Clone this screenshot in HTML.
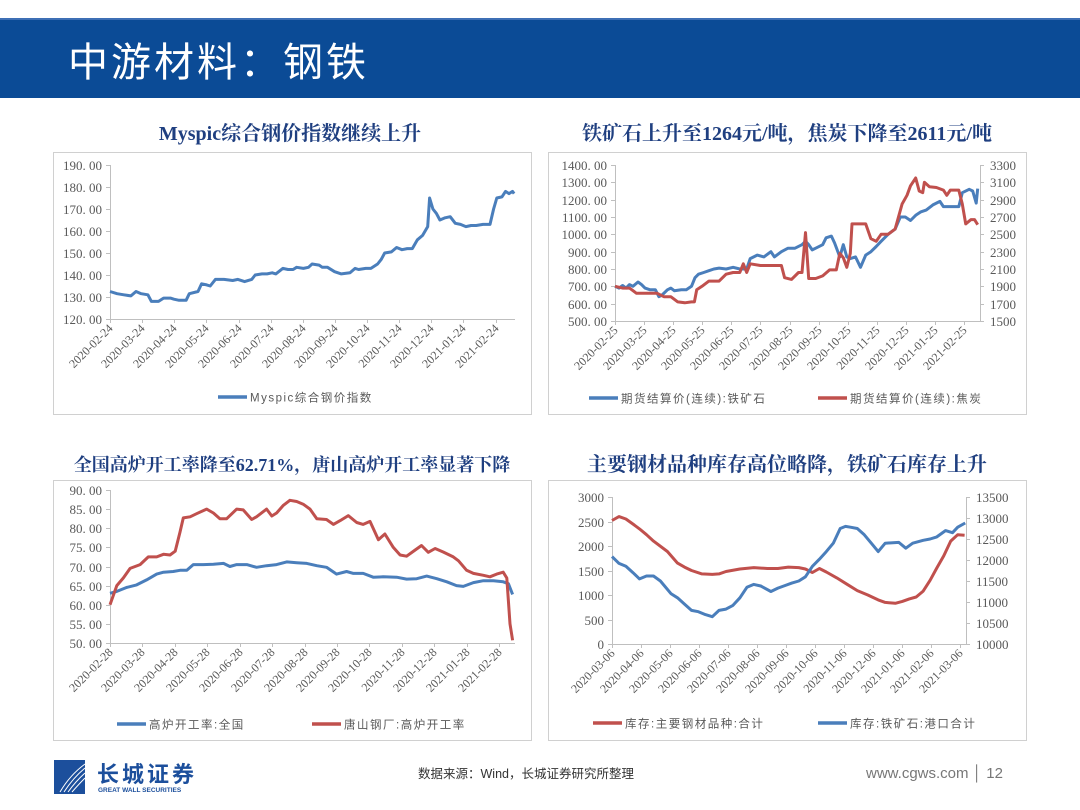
<!DOCTYPE html>
<html><head><meta charset="utf-8"><style>
body{margin:0;background:#fff;}
svg{display:block;}
text{font-family:"Liberation Serif","Noto Serif CJK SC",serif;}
.cj{font-family:"Liberation Sans","Noto Sans CJK SC",sans-serif;}
.tl{fill:#595959;font-size:13px;}
.dl{fill:#595959;font-size:12px;}
.lg{fill:#595959;font-size:11.5px;letter-spacing:1.5px;}
.ct{fill:#1f3f80;font-size:20px;font-weight:bold;}
</style></head><body>
<svg id="s" width="1080" height="810" viewBox="0 0 1080 810">
<rect x="0" y="18" width="1080" height="80" fill="#0b4b96"/>
<rect x="0" y="18" width="1080" height="2" fill="#3d6fb5"/>
<text x="68" y="76" class="cj" fill="#fff" font-size="40" letter-spacing="3">中游材料：钢铁</text>

<text x="290" y="140" text-anchor="middle" class="ct">Myspic综合钢价指数继续上升</text>
<text x="787" y="140" text-anchor="middle" class="ct">铁矿石上升至1264元/吨，焦炭下降至2611元/吨</text>
<text x="292" y="471" text-anchor="middle" class="ct" font-size="18" style="font-size:18px">全国高炉开工率降至62.71%，唐山高炉开工率显著下降</text>
<text x="787" y="471" text-anchor="middle" class="ct">主要钢材品种库存高位略降，铁矿石库存上升</text>

<rect x="53.5" y="152.5" width="478" height="262" fill="none" stroke="#d0d0d0"/>
<rect x="548.5" y="152.5" width="478" height="262" fill="none" stroke="#d0d0d0"/>
<rect x="53.5" y="480.5" width="478" height="260" fill="none" stroke="#d0d0d0"/>
<rect x="548.5" y="480.5" width="478" height="260" fill="none" stroke="#d0d0d0"/>

<g>
<rect x="54" y="760" width="31" height="34" fill="#1c4f9c"/>
<path d="M60 792 Q70 775 85 764 M64 792 Q73 778 85 768 M68 792 Q76 781 85 773 M72 792 Q79 784 85 778" stroke="#fff" stroke-width="1" fill="none"/>
<text x="97" y="782" class="cj" fill="#1c4f9c" font-size="22" font-weight="bold" letter-spacing="3">长城证券</text>
<text x="98" y="792" class="cj" fill="#1c4f9c" font-size="6.5" font-weight="bold">GREAT WALL SECURITIES</text>
</g>
<text x="418" y="778" class="cj" fill="#333" font-size="12.5">数据来源：Wind，长城证券研究所整理</text>
<text x="866" y="778" class="cj" fill="#777" font-size="15">www.cgws.com │ 12</text>
</svg>
<script>
// ---- Chart 1 data ----
const c1Months=[0,.22,.43,.65,.81,.97,1.18,1.29,1.51,1.67,1.88,1.99,2.15,2.37,2.47,2.74,2.85,3.01,3.12,3.28,3.55,3.82,3.98,4.19,4.41,4.52,4.73,4.89,5.05,5.16,5.38,5.54,5.70,5.81,6.02,6.18,6.29,6.51,6.61,6.77,6.99,7.20,7.47,7.63,7.74,7.96,8.12,8.33,8.44,8.55,8.76,8.92,9.09,9.25,9.41,9.57,9.73,9.89,9.95,10.05,10.16,10.27,10.43,10.59,10.75,10.91,11.08,11.24,11.40,11.61,11.83,11.94,12.04,12.20,12.31,12.42,12.53,12.58];
const c1Values=[132.5,131.5,131,130.5,132.5,131.5,131,128,128,129.5,129.5,129,128.5,128.5,131.5,132.5,136,135.5,135,138,138,137.5,138,137,138,140,140.5,140.5,141,140.5,143,142.5,142.5,143.5,143,143.5,145,144.5,143.5,143.5,141.5,140.5,141,143,142.5,143,143,145,147,150,150.5,152.5,151.5,152,152,156,158,162,175,170,168,165,166,166.5,163.5,163,162,162.5,162.5,163,163,170,175,175.5,178,177,178,177];
const c1YTicks=[120,130,140,150,160,170,180,190];
const c1XTicks=["2020-02-24","2020-03-24","2020-04-24","2020-05-24","2020-06-24","2020-07-24","2020-08-24","2020-09-24","2020-10-24","2020-11-24","2020-12-24","2021-01-24","2021-02-24"];
// ---- Chart 2 data ----
const c2OreMonths=[0,.14,.26,.38,.50,.62,.79,.91,1.03,1.21,1.39,1.51,1.62,1.80,1.92,2.04,2.28,2.45,2.63,2.75,2.87,3.05,3.23,3.40,3.58,3.82,4.06,4.29,4.53,4.65,4.89,5.12,5.36,5.48,5.72,5.95,6.19,6.43,6.55,6.66,6.78,6.90,7.14,7.26,7.44,7.55,7.73,7.85,7.97,8.09,8.27,8.44,8.62,8.80,8.98,9.15,9.39,9.63,9.81,9.98,10.16,10.34,10.52,10.70,10.93,11.17,11.29,11.53,11.82,11.94,12.18,12.30,12.42,12.47];
const c2OreValues=[700,690,705,690,710,700,725,710,690,680,680,640,650,680,690,675,680,680,700,750,770,780,790,800,805,800,810,800,800,860,880,870,900,870,900,920,920,940,960,940,910,920,940,980,990,950,870,940,870,860,870,810,880,900,930,960,1000,1030,1100,1100,1080,1110,1130,1140,1170,1190,1160,1160,1160,1240,1260,1250,1180,1264];
const c2CokeMonths=[0,.26,.50,.74,.97,1.45,1.68,1.92,2.16,2.40,2.63,2.73,2.81,2.99,3.23,3.58,3.82,4.06,4.29,4.41,4.53,4.65,5.00,5.72,5.83,6.07,6.31,6.43,6.55,6.66,6.90,7.14,7.38,7.61,7.73,7.85,7.97,8.09,8.15,8.32,8.62,8.80,8.98,9.15,9.39,9.63,9.87,10.04,10.16,10.34,10.46,10.58,10.64,10.81,11.05,11.29,11.41,11.53,11.82,11.94,12.06,12.24,12.36,12.47];
const c2CokeValues=[1900,1880,1880,1820,1820,1820,1780,1780,1720,1710,1720,1720,1860,1900,1960,1960,2040,2060,2060,2160,2060,2160,2140,2140,2000,1980,2060,2060,2520,1990,1990,2020,2090,2090,2280,2230,2120,2280,2620,2620,2620,2450,2420,2500,2500,2560,2850,2950,3060,3150,3000,2980,3100,3050,3040,3010,2950,3010,3010,2850,2620,2670,2670,2611];
const c2LeftTicks=[500,600,700,800,900,1000,1100,1200,1300,1400];
const c2RightTicks=[1500,1700,1900,2100,2300,2500,2700,2900,3100,3300];
const c2XTicks=["2020-02-25","2020-03-25","2020-04-25","2020-05-25","2020-06-25","2020-07-25","2020-08-25","2020-09-25","2020-10-25","2020-11-25","2020-12-25","2021-01-25","2021-02-25"];
// ---- Chart 3 data ----
const c3NatMonths=[0,.21,.51,.82,1.13,1.44,1.65,1.95,2.16,2.37,2.57,2.88,3.19,3.50,3.70,3.91,4.22,4.52,4.83,5.14,5.45,5.76,6.07,6.38,6.68,6.99,7.30,7.51,7.81,8.12,8.43,8.84,9.15,9.46,9.77,10.08,10.39,10.69,10.90,11.21,11.52,11.83,12.13,12.29,12.42];
const c3NatValues=[63,63.5,64.5,65.2,66.5,68,68.5,68.7,69,69,70.5,70.5,70.6,70.8,70,70.5,70.5,69.8,70.2,70.5,71.2,71,70.8,70.2,69.8,68,68.7,68.2,68.2,67.2,67.3,67.2,66.7,66.8,67.5,66.8,66,65,64.8,65.8,66.3,66.3,66,65.5,62.71];
const c3TsMonths=[0,.21,.41,.62,.93,1.18,1.44,1.65,1.85,2.01,2.16,2.26,2.47,2.67,2.98,3.19,3.39,3.60,3.91,4.11,4.37,4.52,4.83,4.99,5.14,5.35,5.55,5.76,5.96,6.17,6.38,6.68,6.89,7.10,7.35,7.61,7.81,8.02,8.28,8.48,8.74,8.95,9.15,9.41,9.61,9.82,10.03,10.28,10.59,10.75,11.00,11.21,11.52,11.72,11.93,12.13,12.24,12.34,12.42];
const c3TsValues=[60,65,67,69.5,70.5,72.5,72.5,73.2,73,74,79,82.7,83,83.8,85,84,82.5,82.5,85,84.8,82.3,83,85,83.2,84,86,87.3,87,86.3,85,82.5,82.3,81,82,83.3,81.5,81,81.8,77,78.5,75,73,72.7,74.3,75.5,73.7,74.7,73.8,72.5,71.5,69,68.2,67.7,67.3,68,68.5,67,55,50.7];
const c3YTicks=[50,55,60,65,70,75,80,85,90];
const c3XTicks=["2020-02-28","2020-03-28","2020-04-28","2020-05-28","2020-06-28","2020-07-28","2020-08-28","2020-09-28","2020-10-28","2020-11-28","2020-12-28","2021-01-28","2021-02-28"];
// ---- Chart 4 data ----
const c4SteelMonths=[0,.24,.48,.72,.95,1.19,1.43,1.91,2.26,2.50,2.74,3.10,3.46,3.69,3.93,4.41,4.89,5.36,5.72,6.08,6.44,6.67,6.91,7.15,7.39,7.75,8.10,8.46,8.82,9.18,9.42,9.77,10.01,10.25,10.49,10.73,10.97,11.20,11.44,11.68,11.92,12.16];
const c4SteelValues=[2520,2600,2550,2450,2350,2230,2100,1888,1650,1570,1500,1430,1420,1430,1480,1530,1560,1540,1540,1570,1560,1530,1460,1540,1470,1350,1220,1090,1000,900,850,830,870,920,960,1080,1300,1550,1800,2100,2230,2220];
const c4OreMonths=[0,.24,.48,.72,.95,1.19,1.43,1.67,2.03,2.26,2.50,2.74,2.98,3.22,3.46,3.69,3.93,4.17,4.41,4.65,4.89,5.13,5.48,5.72,5.96,6.20,6.44,6.67,6.91,7.15,7.39,7.63,7.87,8.05,8.22,8.46,8.70,8.94,9.18,9.42,9.89,10.13,10.37,10.73,10.97,11.20,11.50,11.74,11.92,12.18];
const c4OreValues=[12080,11920,11850,11700,11550,11620,11620,11500,11200,11100,10950,10800,10770,10700,10650,10800,10830,10920,11100,11350,11420,11380,11250,11330,11390,11450,11500,11600,11850,12020,12200,12400,12750,12800,12780,12750,12600,12400,12200,12400,12420,12280,12400,12470,12500,12550,12700,12650,12780,12880];
const c4LeftTicks=[0,500,1000,1500,2000,2500,3000];
const c4RightTicks=[10000,10500,11000,11500,12000,12500,13000,13500];
const c4XTicks=["2020-03-06","2020-04-06","2020-05-06","2020-06-06","2020-07-06","2020-08-06","2020-09-06","2020-10-06","2020-11-06","2020-12-06","2021-01-06","2021-02-06","2021-03-06"];

const BLUE="#4a7ebb",RED="#c0504d",AX="#bfbfbf";
const svg=document.getElementById('s');
const NS="http://www.w3.org/2000/svg";
function mk(tag,attrs,txt){const e=document.createElementNS(NS,tag);for(const k in attrs)e.setAttribute(k,attrs[k]);if(txt!==undefined)e.textContent=txt;svg.appendChild(e);return e;}
function lin(d0,d1,r0,r1){return v=>r0+(v-d0)/(d1-d0)*(r1-r0);}
function fmt(v,dec){return dec?v.toFixed(2).replace('.', '. '):String(v);}

function xAxis(pfx,xs,labels,y,x0,x1){
  const l=mk('line',{x1:x0,y1:y+.5,x2:x1,y2:y+.5,stroke:AX});
  
  
  labels.forEach((lab,i)=>{
    const x=Math.round(xs(i))+.5;
    const t=mk('line',{x1:x,y1:y,x2:x,y2:y+4,stroke:AX});
    
    
    const tx=mk('text',{x:x+3,y:y+10,'text-anchor':'end',class:'dl',transform:`rotate(-45 ${x+3} ${y+10})`},lab);
    
    
  });
}
function yAxis(pfx,ticks,ys,x,side,dec,top,bot){
  const l=mk('line',{x1:x+.5,y1:top,x2:x+.5,y2:bot,stroke:AX});
  
  
  ticks.forEach(v=>{
    const y=Math.round(ys(v))+.5;
    const tk=mk('line',{x1:side==='left'?x-4:x,y1:y,x2:side==='left'?x:x+4,y2:y,stroke:AX});
    
    
    const t=mk('text',{x:side==='left'?x-8:x+10,y:y+4.5,'text-anchor':side==='left'?'end':'start',class:'tl'},fmt(v,dec));
    
    
  });
}
function series(name,ms,vs,xs,ys,color){
  const d=ms.map((m,i)=>(i?'L':'M')+xs(m).toFixed(1)+' '+ys(vs[i]).toFixed(1)).join(' ');
  const p=mk('path',{d:d,fill:'none',stroke:color,'stroke-width':3,'stroke-linejoin':'round'});
  
  
}
function legend(name,x,y,color,label){
  const l=mk('line',{x1:x,y1:y,x2:x+29,y2:y,stroke:color,'stroke-width':3.5});
  
  
  const t=mk('text',{x:x+32,y:y+4.5,class:'lg cj'},label);
  
  
}

// Chart 1
{const xs=lin(0,12,110,495.5),ys=lin(120,190,319,165);
 yAxis('chart1',c1YTicks,ys,110,'left',true,165,319);
 xAxis('chart1',xs,c1XTicks,319,110,515);
 series('chart1-steel-index-line',c1Months,c1Values,xs,ys,BLUE);
 legend('chart1-legend-steel-index',218,397,BLUE,'Myspic综合钢价指数');}
// Chart 2
{const xs=lin(0,12,615,964),yl=lin(500,1400,321,165),yr=lin(1500,3300,321,165);
 yAxis('chart2',c2LeftTicks,yl,615,'left',true,165,321);
 yAxis('chart2',c2RightTicks,yr,980,'right',false,165,321);
 xAxis('chart2',xs,c2XTicks,321,615,980);
 series('chart2-iron-ore-line',c2OreMonths,c2OreValues,xs,yl,BLUE);
 series('chart2-coke-line',c2CokeMonths,c2CokeValues,xs,yr,RED);
 legend('chart2-legend-iron-ore',589,398,BLUE,'期货结算价(连续):铁矿石');
 legend('chart2-legend-coke',818,398,RED,'期货结算价(连续):焦炭');}
// Chart 3
{const xs=lin(0,12,110,499),ys=lin(50,90,643,490);
 yAxis('chart3',c3YTicks,ys,110,'left',true,490,643);
 xAxis('chart3',xs,c3XTicks,643,110,515);
 series('chart3-national-rate-line',c3NatMonths,c3NatValues,xs,ys,BLUE);
 series('chart3-tangshan-rate-line',c3TsMonths,c3TsValues,xs,ys,RED);
 legend('chart3-legend-national',117,724,BLUE,'高炉开工率:全国');
 legend('chart3-legend-tangshan',312,724,RED,'唐山钢厂:高炉开工率');}
// Chart 4
{const xs=lin(0,12,612,960),yl=lin(0,3000,644,497),yr=lin(10000,13500,644,497);
 yAxis('chart4',c4LeftTicks,yl,612,'left',false,497,644);
 yAxis('chart4',c4RightTicks,yr,966,'right',false,497,644);
 xAxis('chart4',xs,c4XTicks,644,612,966);
 series('chart4-steel-inventory-line',c4SteelMonths,c4SteelValues,xs,yl,RED);
 series('chart4-ore-inventory-line',c4OreMonths,c4OreValues,xs,yr,BLUE);
 legend('chart4-legend-steel',593,723,RED,'库存:主要钢材品种:合计');
 legend('chart4-legend-ore',818,723,BLUE,'库存:铁矿石:港口合计');}
</script>
</body></html>
